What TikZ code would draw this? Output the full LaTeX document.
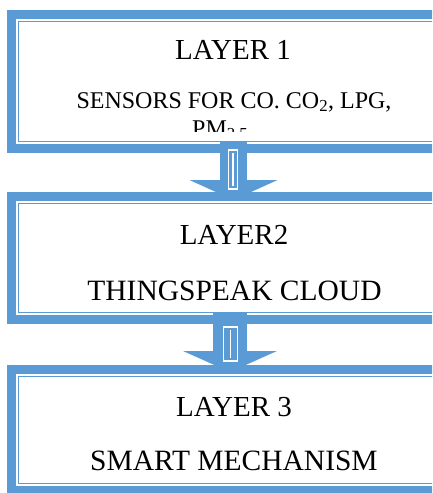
\documentclass[tikz,border=0pt]{standalone}
\usepackage{fontspec}
\setmainfont{Liberation Serif}
\usetikzlibrary{arrows.meta,calc,positioning}
\definecolor{layerblue}{HTML}{5B9BD5}
\tikzset{
  layer/.style={draw=layerblue, line width=9pt, minimum width=443pt,
      inner sep=0pt, outer sep=0pt},
  inline/.style={draw=layerblue, line width=1.5pt},
  title/.style={anchor=base, inner sep=0pt, font=\fontsize{29}{31}\selectfont},
  desc/.style={anchor=base, inner sep=0pt, font=\fontsize{29.5}{31}\selectfont},
  small/.style={font=\fontsize{24}{26}\selectfont},
  flow/.style={draw=layerblue, line width=#1},
  slit/.style={draw=white, line width=1.2pt},
}
\begin{document}
\begin{tikzpicture}[x=1pt,y=-1pt]
      \clip (0,0) rectangle (432,493);
      \fill[white] (0,0) rectangle (432,493);

      \node [layer, minimum height=134pt] (layer1) at (233,81.5) {};
      \node [layer, minimum height=123pt] (layer2) at (233,258) {};
      \node [layer, minimum height=121pt] (layer3) at (233,430) {};
      \foreach \Box in {layer1, layer2, layer3}{
          \draw [inline] ([shift={(6.8,6.8)}]\Box.north west)
          rectangle ([shift={(-6.8,-6.8)}]\Box.south east);
        }

      \draw [flow=27pt, -{Triangle[width=88pt,length=20pt,line width=0pt]}]
      ([xshift=0.5pt,yshift=7.5pt]layer1.south) -- ([xshift=0.5pt,yshift=-3.5pt]layer2.north);
      \draw [flow=34pt, -{Triangle[width=94pt,length=21pt,line width=0pt]}]
      ([xshift=-3pt,yshift=6.5pt]layer2.south) -- ([xshift=-3pt,yshift=-2.5pt]layer3.north);
      \draw [slit] (228.5,150) rectangle (237.5,189);
      \draw [slit] (233,153) -- (233,186);
      \draw [slit] (223.5,327) rectangle (237.5,361);
      \draw [slit] (230.5,330) -- (230.5,358);

      \node [title] (title1) at (233,59) {LAYER 1};
      \node [desc, small] (desc1) at (234,108) {SENSORS FOR CO. CO\textsubscript{2}, LPG,};
      \begin{scope}
        \clip (20,110) rectangle (420,131);
        \node [desc, small, anchor=base west] (desc1b) at (192,136) {PM\textsubscript{2.5}};
      \end{scope}
      \node [title] (title2) at (234,244) {LAYER2};
      \node [desc] (desc2) at (234.5,300) {THINGSPEAK CLOUD};
      \node [title] (title3) at (234,416) {LAYER 3};
      \node [desc] (desc3) at (234,470) {SMART MECHANISM};
    \end{tikzpicture}
\end{document}
